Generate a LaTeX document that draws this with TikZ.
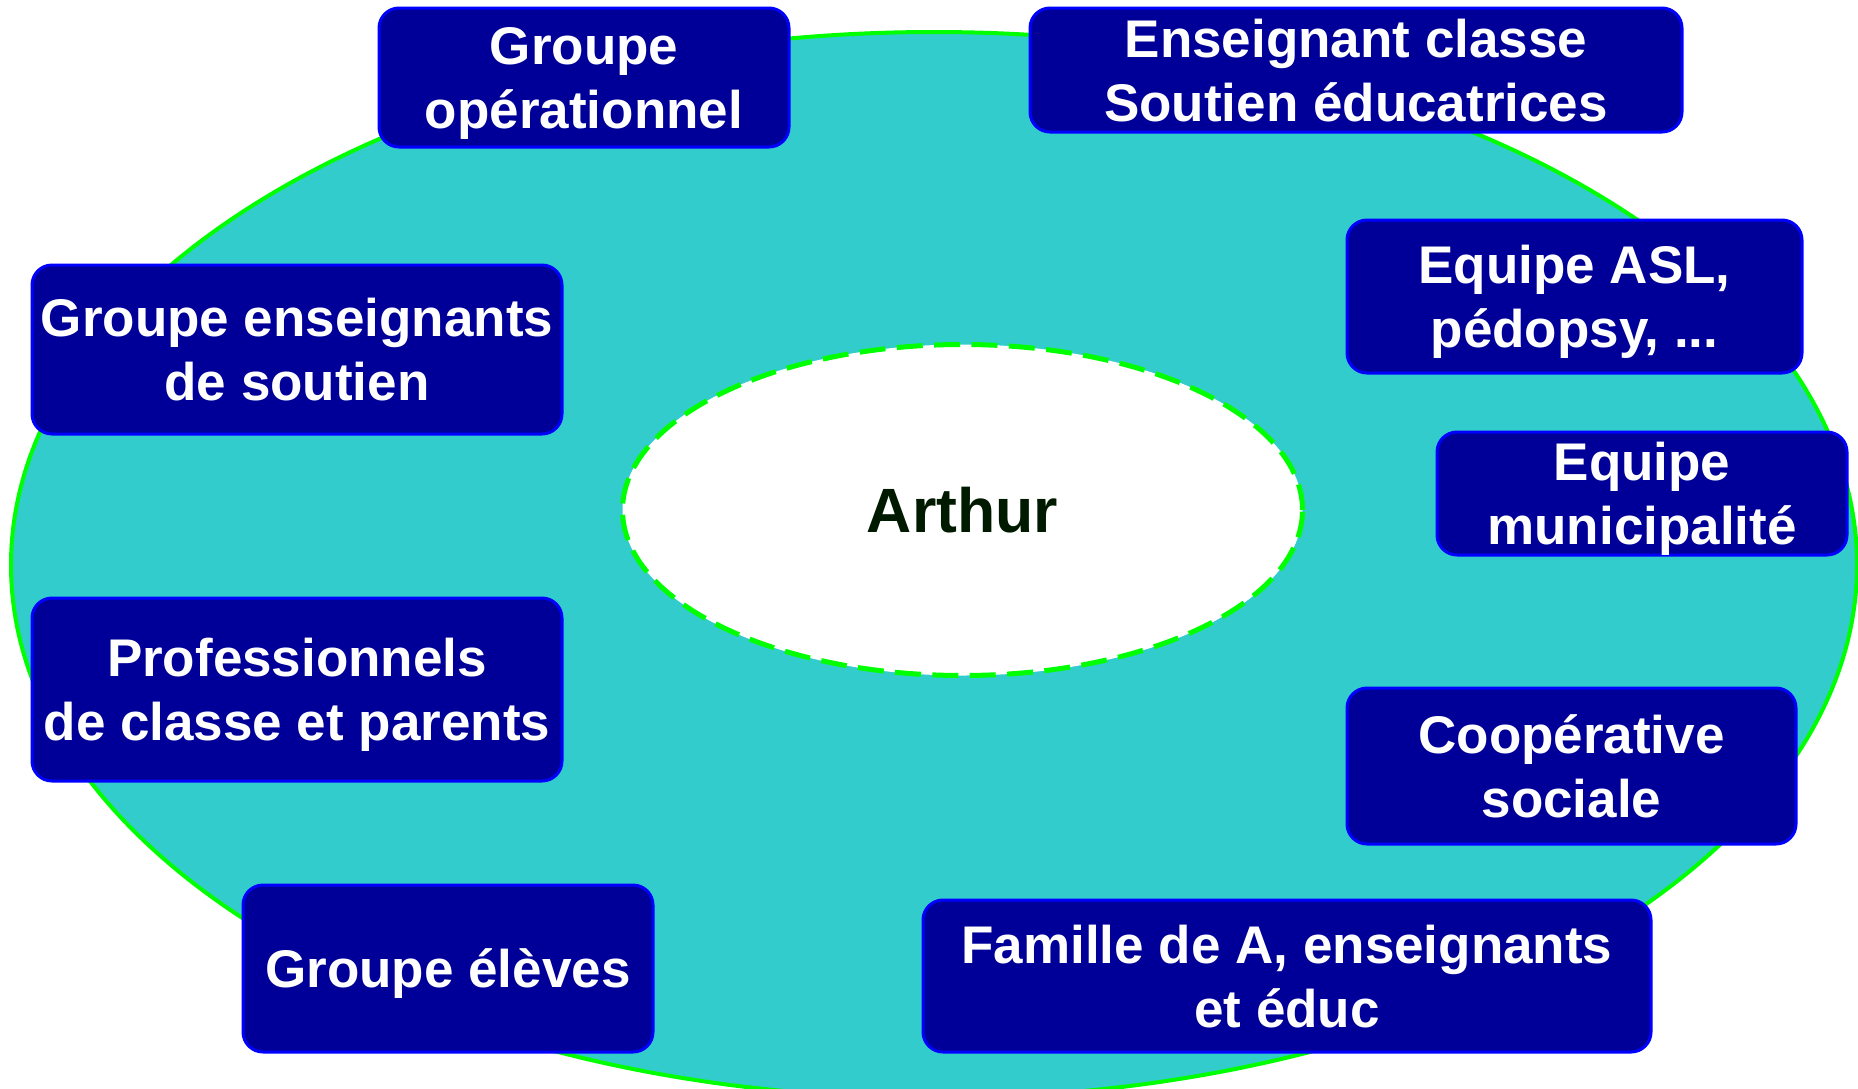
\documentclass[tikz,border=0pt]{standalone}
\usepackage{fontspec}
\setmainfont{Liberation Sans}
\usetikzlibrary{shapes.geometric}
\definecolor{ringteal}{HTML}{33CCCC}
\definecolor{ringgreen}{HTML}{00FF00}
\definecolor{boxnavy}{HTML}{000099}
\definecolor{boxblue}{HTML}{0000FF}
\definecolor{namegreen}{HTML}{001A00}

\begin{document}
\begin{tikzpicture}[x=0.5pt, y=-0.5pt,
    box/.style={rectangle, rounded corners=10pt, draw=boxblue, line width=1.5pt, fill=boxnavy, text=white, inner sep=0pt, text depth=0pt, align=center, font=\bfseries\fontsize{26.5}{32}\selectfont},
    centre/.style={ellipse, draw=ringgreen, line width=2.5pt, dash pattern=on 13pt off 5.7pt, fill=white, minimum width=340pt, minimum height=165.5pt, text=namegreen, font=\bfseries\fontsize{31.3}{36}\selectfont}
]
    \clip (0,0) rectangle (1858,1088);
    \fill[white] (0,0) rectangle (1858,1088);

    % Outer ring
    \draw[ringgreen, line width=2pt, fill=ringteal] (934,565) ellipse [x radius=461.5pt, y radius=266.5pt];

    % Centre
    \node[centre] (arthur) at (962.5,510) {Arthur};

    % Boxes round the ring
    \node[box, minimum width=205pt, minimum height=69.5pt] (operationnel) at (584,77.5) {Groupe\\opérationnel};
    \node[box, minimum width=326pt, minimum height=62pt] (enseignant) at (1356,70) {Enseignant classe\\Soutien éducatrices};
    \node[box, minimum width=265pt, minimum height=84.5pt] (soutien) at (297,349.5) {Groupe enseignants\\de soutien};
    \node[box, minimum width=227.5pt, minimum height=76.5pt] (asl) at (1574.5,296.5) {Equipe ASL,\\pédopsy, ...};
    \node[box, minimum width=205pt, minimum height=61.5pt] (municipalite) at (1642,493.5) {Equipe\\municipalité};
    \node[box, minimum width=265pt, minimum height=91.5pt] (professionnels) at (297,689.5) {Professionnels\\de classe et parents};
    \node[box, minimum width=224.5pt, minimum height=78pt] (cooperative) at (1571.5,766) {Coopérative\\sociale};
    \node[box, minimum width=205pt, minimum height=83.5pt] (eleves) at (448,968.5) {Groupe élèves};
    \node[box, minimum width=364pt, minimum height=76pt] (famille) at (1287,976) {Famille de A, enseignants\\et éduc};

\end{tikzpicture}
\end{document}
